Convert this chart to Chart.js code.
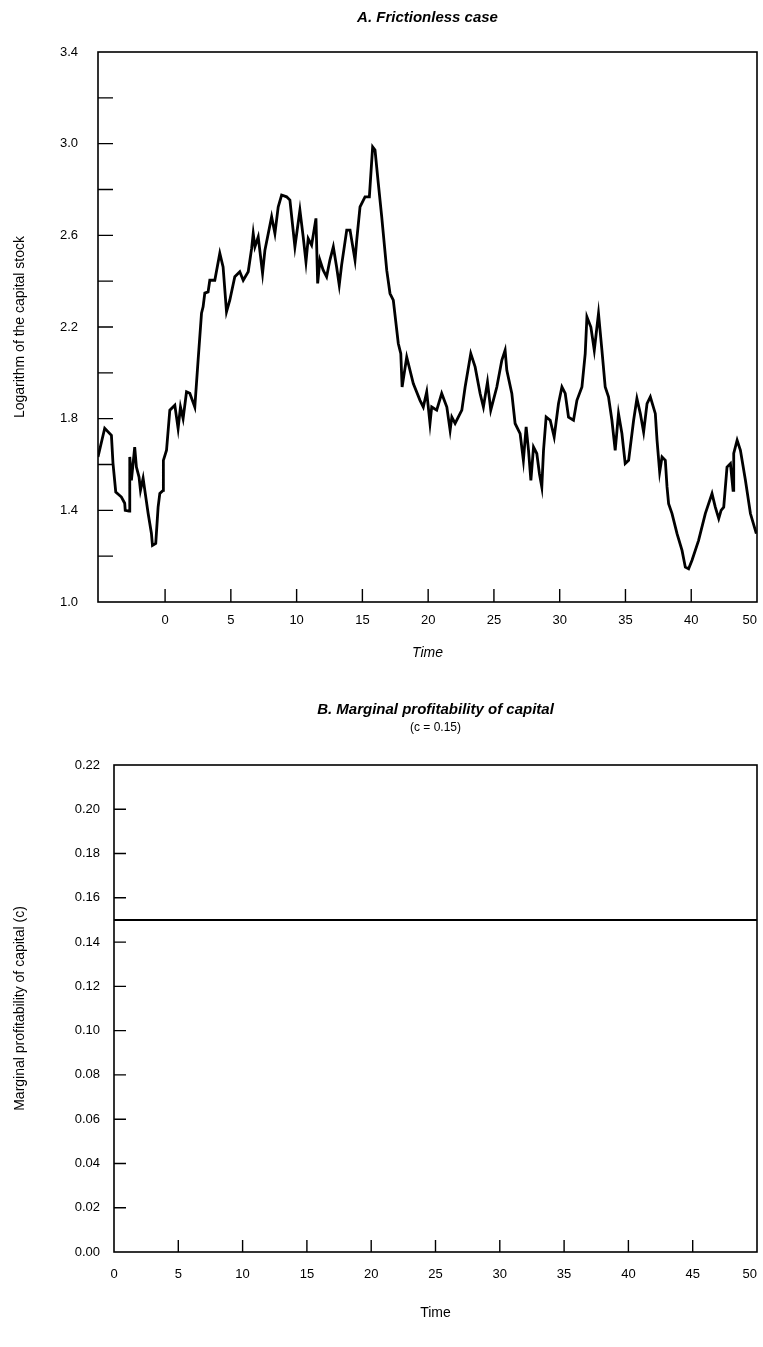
<!DOCTYPE html>
<html>
<head>
<meta charset="utf-8">
<title>Capital stock and marginal profitability</title>
<script src="https://cdn.jsdelivr.net/npm/chart.js"></script>
<style>
  html, body { margin: 0; padding: 0; background: #fff; }
  body { width: 763px; height: 1347px; position: relative; overflow: hidden; }
  canvas { position: absolute; left: 0; }
  #capitalChart { top: 0; }
  #profitChart { top: 680px; }
</style>
</head>
<body>
<canvas id="capitalChart" width="763" height="680"></canvas>
<canvas id="profitChart" width="763" height="667"></canvas>
<script>
// Panel A: log of the capital stock, frictionless case
const capitalTime = [
  -5.10, -4.59, -4.08, -3.96, -3.75, -3.32, -3.07, -3.03, -2.74, -2.69,
  -2.68, -2.56, -2.31, -2.18, -1.98, -1.87, -1.67, -1.54, -1.29, -1.04,
  -0.96, -0.71, -0.53, -0.40, -0.15, -0.13, 0.11, 0.36, 0.74, 0.99,
  1.17, 1.37, 1.63, 1.88, 2.26, 2.51, 2.77, 2.89, 3.02, 3.27,
  3.40, 3.78, 4.16, 4.41, 4.67, 4.92, 5.30, 5.68, 5.94, 6.32,
  6.58, 6.70, 6.83, 7.08, 7.41, 7.59, 8.10, 8.35, 8.60, 8.86,
  9.24, 9.49, 9.87, 10.25, 10.50, 10.71, 10.88, 11.14, 11.47, 11.60,
  11.77, 12.02, 12.28, 12.53, 12.79, 13.04, 13.24, 13.42, 13.81, 14.06,
  14.44, 14.57, 14.82, 15.20, 15.53, 15.78, 15.96, 16.21, 16.47, 16.85,
  17.10, 17.35, 17.73, 17.92, 18.02, 18.37, 18.87, 19.38, 19.63, 19.89,
  20.14, 20.27, 20.65, 21.03, 21.42, 21.67, 21.80, 22.05, 22.56, 22.81,
  23.24, 23.57, 23.95, 24.20, 24.51, 24.76, 25.22, 25.60, 25.85, 25.98,
  26.36, 26.61, 26.99, 27.24, 27.45, 27.63, 27.81, 28.01, 28.26, 28.46,
  28.64, 28.77, 28.97, 29.28, 29.58, 29.91, 30.17, 30.42, 30.67, 31.05,
  31.31, 31.69, 31.94, 32.07, 32.37, 32.63, 32.95, 33.21, 33.46, 33.71,
  33.97, 34.22, 34.47, 34.73, 34.98, 35.24, 35.62, 35.87, 36.13, 36.38,
  36.64, 36.89, 37.27, 37.40, 37.60, 37.78, 38.03, 38.16, 38.28, 38.54,
  38.92, 39.30, 39.55, 39.80, 40.06, 40.56, 41.07, 41.58, 41.83, 42.09,
  42.27, 42.47, 42.72, 42.98, 43.18, 43.23, 43.49, 43.74, 44.12, 44.50,
  44.95
];
const capitalLog = [
  1.633, 1.758, 1.727, 1.605, 1.480, 1.458, 1.431, 1.400, 1.397, 1.444,
  1.633, 1.531, 1.676, 1.589, 1.545, 1.487, 1.540, 1.487, 1.387, 1.300,
  1.247, 1.256, 1.414, 1.474, 1.487, 1.618, 1.662, 1.837, 1.859, 1.757,
  1.851, 1.800, 1.917, 1.911, 1.851, 2.055, 2.260, 2.288, 2.348, 2.353,
  2.404, 2.404, 2.522, 2.462, 2.266, 2.317, 2.419, 2.441, 2.404, 2.441,
  2.543, 2.608, 2.550, 2.593, 2.434, 2.535, 2.681, 2.608, 2.724, 2.776,
  2.768, 2.754, 2.550, 2.710, 2.593, 2.484, 2.586, 2.557, 2.674, 2.390,
  2.492, 2.448, 2.419, 2.492, 2.550, 2.462, 2.383, 2.470, 2.623, 2.623,
  2.492, 2.579, 2.724, 2.768, 2.768, 2.986, 2.972, 2.827, 2.681, 2.448,
  2.346, 2.317, 2.128, 2.084, 1.938, 2.069, 1.953, 1.880, 1.851, 1.917,
  1.779, 1.851, 1.837, 1.910, 1.851, 1.749, 1.807, 1.779, 1.837, 1.938,
  2.084, 2.026, 1.910, 1.851, 1.960, 1.837, 1.938, 2.055, 2.099, 2.011,
  1.910, 1.779, 1.735, 1.618, 1.764, 1.662, 1.531, 1.676, 1.648, 1.560,
  1.502, 1.662, 1.807, 1.793, 1.720, 1.866, 1.938, 1.910, 1.807, 1.793,
  1.880, 1.938, 2.084, 2.244, 2.200, 2.099, 2.259, 2.099, 1.938, 1.895,
  1.793, 1.662, 1.822, 1.735, 1.604, 1.618, 1.793, 1.888, 1.822, 1.742,
  1.866, 1.895, 1.822, 1.706, 1.567, 1.633, 1.618, 1.502, 1.429, 1.386,
  1.298, 1.225, 1.152, 1.145, 1.182, 1.269, 1.386, 1.473, 1.414, 1.364,
  1.400, 1.414, 1.589, 1.604, 1.487, 1.648, 1.706, 1.662, 1.531, 1.386,
  1.298
];
// first entry is the left edge of the axis, left unlabelled
const capitalTimeTicks = [-5.1, 0, 5, 10, 15, 20, 25, 30, 35, 40, 45];
const capitalTimeLabels = ['', '0', '5', '10', '15', '20', '25', '30', '35', '40', '50'];
const capitalLogTicks = [1.0, 1.2, 1.4, 1.6, 1.8, 2.0, 2.2, 2.4, 2.6, 2.8, 3.0, 3.2, 3.4];
const capitalLogLabels = ['1.0', '', '1.4', '', '1.8', '', '2.2', '', '2.6', '', '3.0', '', '3.4'];

// Panel B: marginal profitability of capital, constant c
const profitTime = [0, 50];
const profitValue = [0.15, 0.15];
const profitTimeTicks = [0, 0, 5, 10, 15, 20, 25, 30, 35, 40, 45, 50];
const profitTimeLabels = ['', '0', '5', '10', '15', '20', '25', '30', '35', '40', '45', '50'];
const profitTicks = [0, 0.02, 0.04, 0.06, 0.08, 0.10, 0.12, 0.14, 0.16, 0.18, 0.20, 0.22];

Chart.defaults.font.family = '"Liberation Sans", Arial, Helvetica, sans-serif';
Chart.defaults.color = '#000';

// box around the plot area plus short inward tick marks
const framePlugin = {
  id: 'frame',
  afterDraw(chart, args, opts) {
    const { ctx, chartArea: a, scales } = chart;
    ctx.save();
    ctx.strokeStyle = '#000';
    ctx.lineWidth = opts.lineWidth;
    ctx.strokeRect(a.left, a.top, a.right - a.left, a.bottom - a.top);
    ctx.lineWidth = opts.tickWidth;
    ctx.beginPath();
    scales.x.ticks.forEach(t => {
      const px = scales.x.getPixelForValue(t.value);
      if (px - a.left < 2 || a.right - px < 2) return;
      ctx.moveTo(px, a.bottom);
      ctx.lineTo(px, a.bottom - opts.xTickLength);
    });
    scales.y.ticks.forEach(t => {
      const py = scales.y.getPixelForValue(t.value);
      if (py - a.top < 2 || a.bottom - py < 2) return;
      ctx.moveTo(a.left, py);
      ctx.lineTo(a.left + opts.yTickLength, py);
    });
    ctx.stroke();
    ctx.restore();
  }
};

// fixed axis box sizes, no extra room for the end labels
const fixHeight = h => s => { s.height = h; s.paddingLeft = 0; s.paddingRight = 0; };
const fixWidth = w => s => { s.width = w; s.paddingTop = 0; s.paddingBottom = 0; };

const tickFont = { size: 13 };
const axisTitleFont = { size: 14 };
const panelTitleFont = { size: 15, weight: 'bold', style: 'italic' };

new Chart(document.getElementById('capitalChart'), {
  type: 'line',
  data: {
    datasets: [{
      data: capitalTime.map((t, i) => ({ x: t, y: capitalLog[i] })),
      borderColor: '#000',
      borderWidth: 2.8,
      pointRadius: 0,
      tension: 0
    }]
  },
  options: {
    responsive: false,
    animation: false,
    layout: { padding: { left: 0, right: 6, top: 0, bottom: 18 } },
    plugins: {
      legend: { display: false },
      tooltip: { enabled: false },
      title: {
        display: true,
        text: 'A. Frictionless case',
        fullSize: false,
        font: panelTitleFont,
        padding: { top: 9, bottom: 25 }
      },
      frame: { lineWidth: 1.6, tickWidth: 1.4, xTickLength: 13, yTickLength: 15 }
    },
    scales: {
      x: {
        type: 'linear',
        min: -5.1,
        max: 45,
        afterFit: fixHeight(60),
        afterBuildTicks: s => { s.ticks = capitalTimeTicks.map(v => ({ value: v })); },
        grid: { display: false, drawTicks: false },
        border: { display: false },
        ticks: {
          font: tickFont,
          padding: 11,
          align: 'inner',
          maxRotation: 0,
          autoSkip: false,
          callback: (v, i) => capitalTimeLabels[i]
        },
        title: {
          display: true,
          text: 'Time',
          font: { size: 14, style: 'italic' },
          padding: { top: 5, bottom: 0 }
        }
      },
      y: {
        min: 1.0,
        max: 3.4,
        afterFit: fixWidth(98),
        afterBuildTicks: s => { s.ticks = capitalLogTicks.map(v => ({ value: v })); },
        grid: { display: false, drawTicks: false },
        border: { display: false },
        ticks: {
          font: tickFont,
          padding: 20,
          autoSkip: false,
          callback: (v, i) => capitalLogLabels[i]
        },
        title: {
          display: true,
          text: 'Logarithm of the capital stock',
          font: axisTitleFont,
          padding: { top: 12, bottom: 0 }
        }
      }
    }
  },
  plugins: [framePlugin]
});

new Chart(document.getElementById('profitChart'), {
  type: 'line',
  data: {
    datasets: [{
      data: profitTime.map((t, i) => ({ x: t, y: profitValue[i] })),
      borderColor: '#000',
      borderWidth: 2,
      pointRadius: 0
    }]
  },
  options: {
    responsive: false,
    animation: false,
    layout: { padding: { left: 0, right: 6, top: 0, bottom: 25 } },
    plugins: {
      legend: { display: false },
      tooltip: { enabled: false },
      title: {
        display: true,
        text: 'B. Marginal profitability of capital',
        fullSize: false,
        font: panelTitleFont,
        padding: { top: 21, bottom: 0 }
      },
      subtitle: {
        display: true,
        text: '(c = 0.15)',
        fullSize: false,
        font: { size: 12 },
        padding: { top: 1, bottom: 30.6 }
      },
      frame: { lineWidth: 1.6, tickWidth: 1.4, xTickLength: 12, yTickLength: 12 }
    },
    scales: {
      x: {
        type: 'linear',
        min: 0,
        max: 50,
        afterFit: fixHeight(70),
        afterBuildTicks: s => { s.ticks = profitTimeTicks.map(v => ({ value: v })); },
        grid: { display: false, drawTicks: false },
        border: { display: false },
        ticks: {
          font: tickFont,
          padding: 15,
          align: 'inner',
          maxRotation: 0,
          autoSkip: false,
          callback: (v, i) => profitTimeLabels[i]
        },
        title: {
          display: true,
          text: 'Time',
          font: axisTitleFont,
          padding: { top: 4, bottom: 0 }
        }
      },
      y: {
        min: 0,
        max: 0.22,
        afterFit: fixWidth(114),
        afterBuildTicks: s => { s.ticks = profitTicks.map(v => ({ value: v })); },
        grid: { display: false, drawTicks: false },
        border: { display: false },
        ticks: {
          font: tickFont,
          padding: 14,
          autoSkip: false,
          callback: v => v.toFixed(2)
        },
        title: {
          display: true,
          text: 'Marginal profitability of capital (c)',
          font: axisTitleFont,
          padding: { top: 12, bottom: 0 }
        }
      }
    }
  },
  plugins: [framePlugin]
});
</script>
</body>
</html>
